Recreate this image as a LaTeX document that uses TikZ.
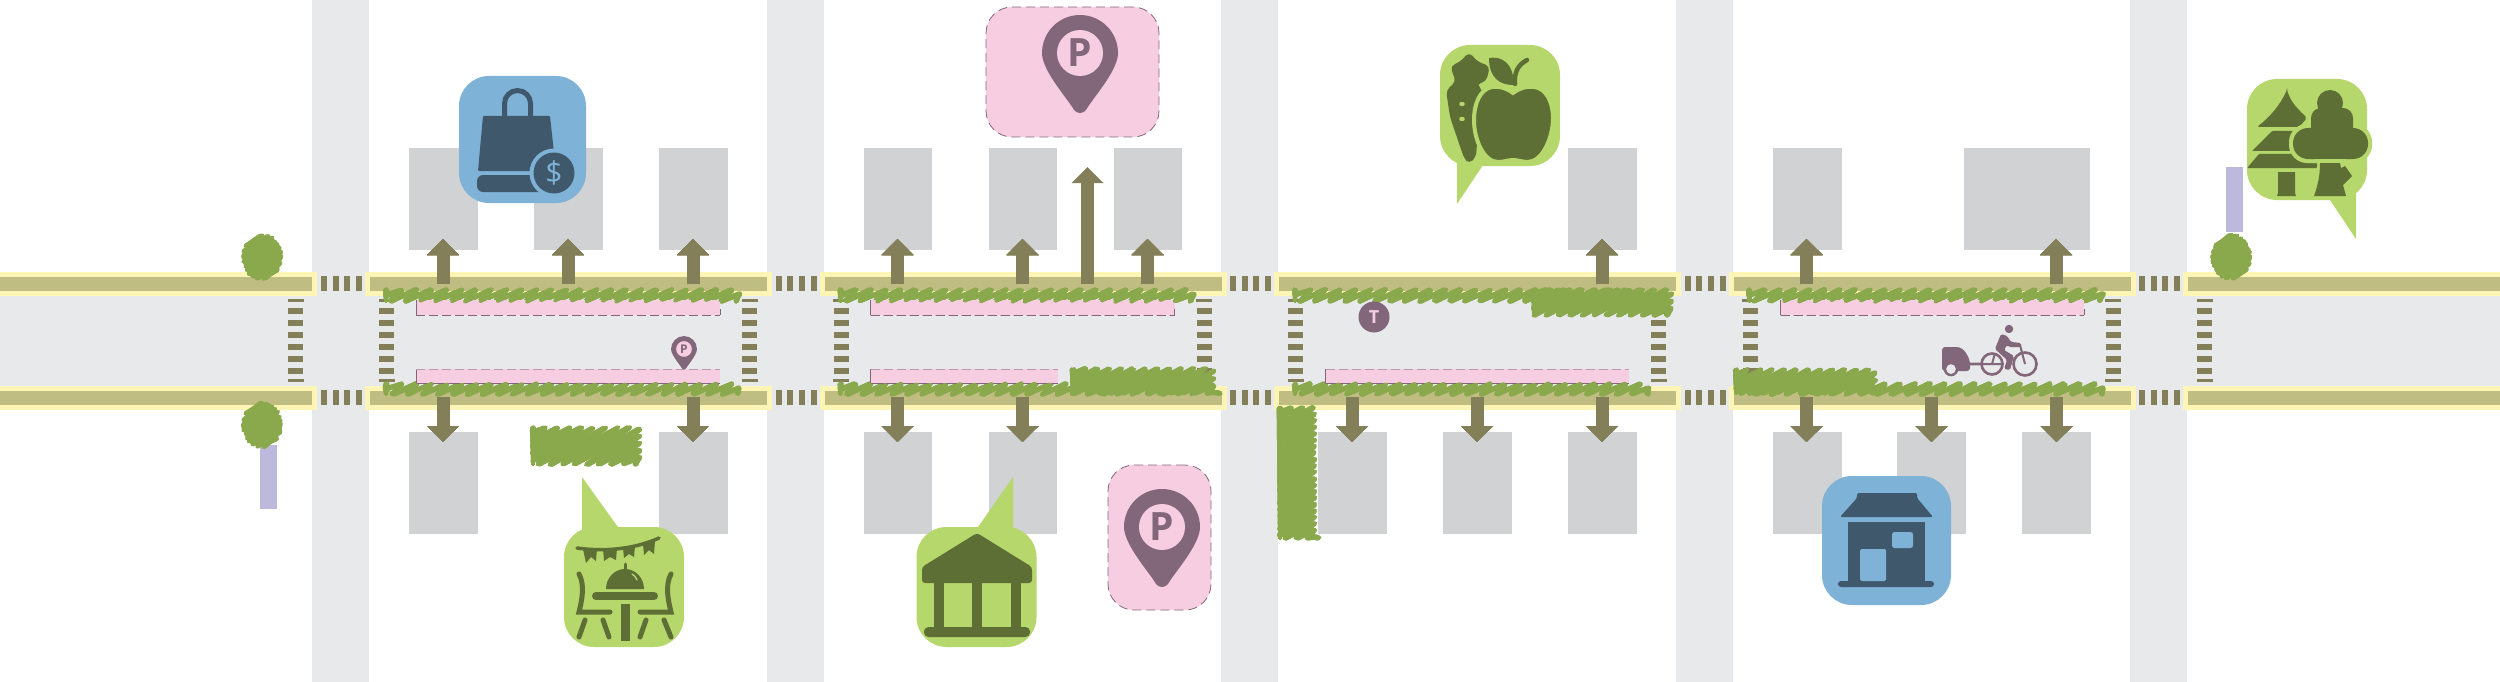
\documentclass[tikz,border=0pt]{standalone}
\usepackage{fontspec}
\setmainfont{Open Sans}
\usepackage{tikz}
\usetikzlibrary{arrows.meta}
\definecolor{streetc}{HTML}{E8E9EB}
\definecolor{bldgc}{HTML}{D1D2D4}
\definecolor{curbc}{HTML}{FDF5B5}
\definecolor{walkc}{HTML}{BFBD82}
\definecolor{markc}{HTML}{837F58}
\definecolor{leafc}{HTML}{8AA94C}
\definecolor{pinkc}{HTML}{F7CDE2}
\definecolor{plumc}{HTML}{82677A}
\definecolor{lilacc}{HTML}{BDB9DC}
\definecolor{lightg}{HTML}{B5D76C}
\definecolor{darkg}{HTML}{5E6F35}
\definecolor{lightb}{HTML}{7FB2D7}
\definecolor{darkb}{HTML}{40586C}
\tikzset{
  sidewalk/.style={draw=curbc, fill=walkc, line width=5pt},
  stripe/.style={fill=markc},
  scribble/.style={draw=leafc, line width=3.8pt, line cap=round, line join=round},
  access/.style={draw=markc, line width=13pt, -{Triangle[width=31pt,length=16pt]}},
  bubble/.style={inner sep=0pt, outer sep=0pt, rounded corners=30pt, minimum width=120pt, minimum height=120pt},
  greenb/.style={bubble, fill=lightg},
  blueb/.style={bubble, fill=lightb},
  parkb/.style={inner sep=0pt, outer sep=0pt, rounded corners=26pt, fill=pinkc, draw=plumc, line width=.8pt, dash pattern=on 9pt off 5pt},
  dgicon/.style={fill=darkg, draw=none},
  dbicon/.style={fill=darkb, draw=none},
  dgline/.style={draw=darkg, line width=5pt, line cap=round},
  edgeline/.style={draw=plumc, line width=.8pt},
  edgedash/.style={edgeline, dash pattern=on 9pt off 4pt},
}
% band of hatching: x0, x1, ytop, ybot, step
\newcommand{\scribbleband}[5]{
  \pgfmathsetmacro\scl{#1+2}\pgfmathsetmacro\scr{#2-2}
  \pgfmathsetmacro\sct{#3+2}\pgfmathsetmacro\scb{#4-2}
  \pgfmathsetmacro\sch{\scb-\sct}
  \pgfmathsetmacro\scs{1.7*\sch}
  \pgfmathtruncatemacro\scn{(\scr+\scs-\scl)/#5}
  \draw[scribble] (\scl,\scb) foreach \k in {0,...,\scn} {
    -- ({min(\scr,\scl+\k*#5)+1.5*rand},{\sct+max(0,\scl+\k*#5-\scr)/1.7+rand})
    -- ({max(\scl,\scl+\k*#5-\scs+#5*.6)+1.5*rand},{\scb-max(0,\scs-\k*#5-#5*.6)/1.7+rand})
  };
}
\newcommand{\scribbletree}[2]{
  \draw[scribble] (#1,#2) foreach \t [evaluate=\t as \w using {sqrt(1-\t*\t)}] in {-0.92,-0.72,...,0.93} {
    -- ({#1+18*(.87*\w-.5*\t)+1.5*rand},{#2-21*(.5*\w+.87*\t)+1.5*rand})
    -- ({#1+18*(-.87*\w-.5*\t)+1.5*rand},{#2-21*(-.5*\w+.87*\t)+1.5*rand})
  };
}
% x of the left end of the seven bars
\newcommand{\crosswalk}[1]{
  \foreach \y in {311,323,335,347,359,370.5} \fill[stripe] (#1,\y-3) rectangle (#1+15,\y+3);
  \foreach \y in {300.7,380.7} \fill[stripe] (#1-.5,\y-1.7) rectangle (#1+15.5,\y+1.7);
}
% centre x, centre y, scale, letter size, name
\newcommand{\parkpin}[5]{
  \fill[plumc, shift={(#1,#2)}, scale=#3] (-38,0) arc[start angle=180,end angle=360,radius=38]
    .. controls (38,18) and (12,46) .. (6,57) .. controls (3,61) and (-3,61) .. (-6,57)
    .. controls (-12,46) and (-38,18) .. (-38,0) -- cycle;
  \node[circle, fill=pinkc, inner sep=0pt, minimum size=#3*46pt, font=\fontsize{#4}{#4}\selectfont\bfseries, text=plumc] (#5) at (#1,#2) {P};
}
\begin{document}
\begin{tikzpicture}[x=1pt,y=-1pt]
  \useasboundingbox (0,0) rectangle (2500,682);
  \pgfmathsetseed{7}
  % streets
  \fill[streetc] (0,296) rectangle (2500,386);
  \foreach \x in {312,766.5,1221,1675.5,2130} \fill[streetc] (\x,0) rectangle (\x+57,682);
  % buildings
  \foreach \x in {409,534,659,863.5,988.5,1113.5,1568,1773} \fill[bldgc] (\x,148) rectangle (\x+68.5,250);
  \fill[bldgc] (1964,148) rectangle (2090,250);
  \foreach \x in {409,659,863.5,988.5,1318,1443,1568,1773,1897,2022} \fill[bldgc] (\x,432) rectangle (\x+68.5,534);
  % sidewalks
  \fill[lilacc] (260,445) rectangle (277,509);
  \fill[lilacc] (2226,167) rectangle (2243,232);
  \foreach \y in {274.5,388.5} {
    \draw[sidewalk] (-10,\y) rectangle (314.5,\y+19);
    \draw[sidewalk] (2185,\y) rectangle (2510,\y+19);
    \foreach \bx in {0,454.5,909,1363.5} \draw[sidewalk] (367.5+\bx,\y) rectangle (769.5+\bx,\y+19);
    \foreach \x in {321,775.5,1230,1684.5,2139} \foreach \d in {0,11.5,23,35} \fill[stripe] (\x+\d,\y+1.5) rectangle (\x+\d+6.3,\y+16.5);
  }
  \foreach \x in {288,379,742,833.5,1196.5,1288,1651,1742.5,2105.5,2197} \crosswalk{\x}
  % parking lanes
  \foreach \xa/\xb in {416/720,870.5/1174.5,1780.5/2084} {
    \fill[pinkc] (\xa,300) rectangle (\xb,315);
    \draw[edgeline] (\xa,300) -- (\xa,315) (\xb,309) -- (\xb,315);
    \draw[edgedash] (\xa,315) -- (\xb,315);
  }
  \foreach \xa/\xb in {416/720,870.5/1058,1325.5/1629} {
    \fill[pinkc] (\xa,369) rectangle (\xb,383);
    \draw[edgeline] (\xa,369) -- (\xa,383) -- (\xb,383);
    \draw[edgedash, plumc!50!pinkc] (\xa,369) -- (\xb,369);
  }
  % planting
  \foreach \bx in {0,454.5,909,1363.5} {
    \scribbleband{384+\bx}{741+\bx}{288}{303}{15}
    \scribbleband{384+\bx}{741+\bx}{382}{396}{15}
  }
  \scribbleband{1071}{1215}{367}{395}{12}
  \scribbleband{1532}{1673}{288}{317}{12}
  \scribbleband{1734}{1877}{368}{395}{12}
  \scribbleband{531}{641}{426}{466}{12}
  \scribbleband{1278}{1316}{406}{540}{11}
  \scribbletree{262}{257}
  \scribbletree{262}{425}
  \scribbletree{2231}{257}
  % access arrows
  \foreach \x [count=\i] in {443,568,693,897.5,1022.5,1147.5,1602,1806.5,2056} {
    \coordinate (ua\i) at (\x,284); \coordinate (ub\i) at (\x,239);
    \draw[access] (ua\i) -- (ub\i);
  }
  \foreach \x [count=\i] in {443,693,897.5,1022.5,1352,1477,1602,1806.5,1931.5,2056.5} {
    \coordinate (da\i) at (\x,397); \coordinate (db\i) at (\x,442);
    \draw[access] (da\i) -- (db\i);
  }
  \coordinate (ta) at (1087.5,284); \coordinate (tb) at (1087.5,167);
  \draw[access] (ta) -- (tb);
  % street icons
  \parkpin{684}{349}{.34}{12}{ppin}
  \node[circle, fill=plumc, inner sep=0pt, minimum size=31pt, text=pinkc, font=\fontsize{18}{18}\selectfont\bfseries] (tstop) at (1374,317) {T};
  % bike and trailer
  \fill[plumc, rounded corners=3pt] (1942,347) -- (1956,347) .. controls (1964,348) and (1968,356) .. (1970,362) -- (1970,371) -- (1942,371) -- cycle;
  \draw[plumc, line width=2.6pt] (1951,369) circle[radius=6];
  \fill[streetc] (1951,369) circle[radius=4.8];
  \draw[plumc, line width=2.6pt] (1970,364) -- (1982,364) (1992,364) circle[radius=10.5] (2025,364) circle[radius=11.5];
  \draw[plumc, line width=2pt] (1981,364) -- (2003,364) (1992,364) -- (1995,353) (2025,364) -- (2020,345) -- (2014,345);
  \fill[plumc] (2009,329) circle[radius=4.2];
  \fill[plumc, rounded corners=1.5pt] (2001,334) -- (2007,336) -- (2011,342) -- (2021,343) -- (2021,347) -- (2009,347) -- (2007,345) -- (2004,350) -- (2014,356) -- (2010,370) -- (2004,369) -- (2007,360) -- (1995,349) -- cycle;
  % shopping
  \node[blueb, minimum width=127pt, minimum height=127pt] (shop) at (522.5,139.5) {};
  \draw[darkb, line width=5pt] (504.5,118) -- (504.5,103.5) arc[start angle=180,end angle=0,radius=13pt] -- (530.5,118);
  \fill[dbicon, rounded corners=1pt] (483,116) -- (550,116) -- (556,171) -- (478,171) -- cycle;
  \fill[dbicon, rounded corners=6pt] (477,175) -- (560,175) -- (560,192) -- (477,192) -- cycle;
  \fill[lightb] (554,173) circle[radius=24.5];
  \node[circle, fill=darkb, inner sep=0pt, minimum size=41pt, text=lightb, font=\fontsize{30}{30}\selectfont] (coin) at (554,173) {\$};
  % parking boxes
  \node[parkb, minimum width=173pt, minimum height=130pt] (parktop) at (1072.5,72) {};
  \parkpin{1080}{53}{1}{39}{pintop}
  \node[parkb, minimum width=103pt, minimum height=145pt] (parkbot) at (1159.5,537.5) {};
  \parkpin{1162}{527}{1}{39}{pinbot}
  % dining
  \fill[lightg] (582,477) -- (582,535) -- (620,530) -- cycle;
  \node[greenb] (dine) at (624,587) {};
  \draw[dgline, line width=3.5pt] (577,548) .. controls (605,552) and (635,549) .. (659,538);
  \fill[dgicon] (583,549) -- (597,549) -- (596,561) -- (591,557) -- (586,563) -- cycle;
  \fill[dgicon] (603,549) -- (617,548) -- (616,560) -- (610,557) -- (604,561) -- cycle;
  \fill[dgicon] (623,548) -- (635,546) -- (634,557) -- (629,554) -- (624,558) -- cycle;
  \fill[dgicon] (643,544) -- (655,541) -- (654,554) -- (649,550) -- (644,555) -- cycle;
  \fill[dgicon] (606,589) arc[start angle=180,end angle=0,x radius=19pt,y radius=20pt] -- cycle;
  \draw[dgline, line width=3pt] (625,571) -- (625,564);
  \draw[lightg, line width=1.3pt, line cap=round] (632,574) .. controls (634,575) and (636,577) .. (637,580);
  \draw[dgline, line width=8pt] (596,596) -- (654,596);
  \fill[dgicon] (620.5,604) rectangle (629.5,641);
  \draw[dgline] (579,574) .. controls (585,585) and (582,600) .. (579,612) -- (610,612);
  \draw[dgline] (671,574) .. controls (665,585) and (668,600) .. (671,612) -- (640,612);
  \draw[dgline] (585,620) -- (579,637) (603,620) -- (609,637) (646,620) -- (640,637) (664,620) -- (671,637);
  % pavilion
  \fill[lightg] (1013,477) -- (1013,535) -- (976,530) -- cycle;
  \node[greenb] (pavilion) at (976.5,587) {};
  \fill[dgicon, rounded corners=3pt] (977,533) -- (1032,567) -- (1032,583) -- (922,583) -- (922,567) -- cycle;
  \foreach \x in {934,972,1011} \fill[dgicon] (\x,580) rectangle (\x+10,630);
  \fill[dgicon, rounded corners=4.5pt] (924,627) rectangle (1030,637);
  % grocery
  \fill[lightg] (1457,204) -- (1457,155) -- (1485,162) -- cycle;
  \node[greenb, minimum width=120pt, minimum height=121pt] (grocery) at (1500,105.5) {};
  \fill[dgicon, rounded corners=5pt] (1450,66) -- (1460,62) -- (1469,52) -- (1478,62) -- (1490,66) -- (1486,82) -- (1476,84) -- (1483,90) -- (1478,130) -- (1476,157) -- (1469,164) -- (1464,158) -- (1450,117) -- (1446,90) -- (1456,82) -- cycle;
  \draw[lightg, line width=3.5pt, line cap=round] (1461,104) -- (1463,104) (1461,119) -- (1463,119);
  \draw[dgicon, draw=lightg, line width=4pt] (1513,93) .. controls (1506,88) and (1500,86) .. (1492,87) .. controls (1480,89) and (1474,104) .. (1474,120) .. controls (1474,140) and (1484,162) .. (1498,162) .. controls (1504,162) and (1508,160) .. (1513,160) .. controls (1518,160) and (1522,162) .. (1528,162) .. controls (1542,162) and (1553,138) .. (1553,118) .. controls (1553,102) and (1546,88) .. (1534,87) .. controls (1526,86) and (1520,88) .. (1513,93) -- cycle;
  \fill[dgicon] (1489,58) .. controls (1510,55) and (1515,75) .. (1513,85) .. controls (1500,85) and (1489,78) .. (1489,58) -- cycle;
  \draw[dgline, line width=4.5pt] (1515,84) .. controls (1514,72) and (1518,65) .. (1527,60);
  % park
  \fill[lightg] (2356,239) -- (2356,185) -- (2328,197) -- cycle;
  \node[greenb, minimum width=120pt, minimum height=121pt] (park) at (2307,139.5) {};
  \fill[dgicon, rounded corners=2pt] (2287,90) .. controls (2291,103) and (2299,110) .. (2307,118) -- (2299,127) -- (2257,127) .. controls (2270,117) and (2280,105) .. (2287,90) -- cycle;
  \fill[dgicon, rounded corners=1pt] (2272,131) -- (2295,131) -- (2293,151) -- (2252,151) -- cycle;
  \fill[dgicon, rounded corners=1pt] (2259,154) -- (2295,154) -- (2305,163) -- (2317,163) -- (2317,168) -- (2247,168) -- cycle;
  \fill[dgicon] (2278,172) -- (2295,172) -- (2295,193) -- (2296,196) -- (2277,196) -- (2278,193) -- cycle;
  \fill[lightg, rounded corners=18pt] (2289,124) rectangle (2372,163);
  \fill[lightg, rounded corners=12pt] (2307,105) rectangle (2358,140);
  \fill[dgicon, rounded corners=15pt] (2293,128) rectangle (2368,159);
  \fill[dgicon, rounded corners=10pt] (2311,108) rectangle (2353,138);
  \fill[dgicon] (2330,103) circle[radius=13];
  \fill[lightg] (2315,159) rectangle (2346,163);
  \fill[dgicon] (2320,163) -- (2340,163) -- (2341,168) -- (2345,166) -- (2352,176) -- (2343,185) -- (2346,196) -- (2314,196) .. controls (2318,185) and (2320,175) .. (2320,163) -- cycle;
  % store
  \node[blueb, minimum width=129pt, minimum height=129pt] (store) at (1886.5,540.5) {};
  \fill[dbicon, rounded corners=1.5pt] (1857,493) -- (1917,493) -- (1917,498) -- (1933,517) -- (1840,517) -- (1857,498) -- cycle;
  \fill[dbicon] (1848,522) rectangle (1925,583);
  \fill[dbicon, rounded corners=3pt] (1838,581) rectangle (1934,587);
  \fill[lightb, rounded corners=1.5pt] (1860,549) rectangle (1886,581);
  \fill[lightb, rounded corners=2.5pt] (1892,532) rectangle (1913,548);
\end{tikzpicture}
\end{document}
